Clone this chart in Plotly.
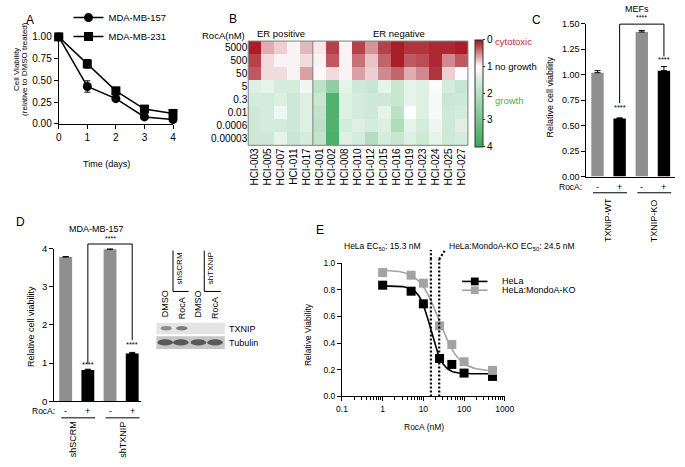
import numpy as np
import plotly.graph_objects as go

W, H = 685, 467
FONT = "Liberation Sans, Arial, sans-serif"

# ---------------- Panel A data ----------------
days = [0, 1, 2, 3, 4]
mb157 = [1.00, 0.43, 0.29, 0.08, 0.05]
mb157_err = [0.0, 0.065, 0.012, 0.012, 0.008]
mb231 = [1.00, 0.69, 0.38, 0.17, 0.12]
mb231_err = [0.0, 0.05, 0.012, 0.02, 0.012]

# ---------------- Panel B data ----------------
pdx_models = ["HCI-003", "HCI-005", "HCI-007", "HCI-011", "HCI-017",
              "HCI-001", "HCI-002", "HCI-008", "HCI-010", "HCI-012", "HCI-015",
              "HCI-016", "HCI-019", "HCI-023", "HCI-024", "HCI-025", "HCI-027"]
roca_doses = ["5000", "500", "50", "5", "0.3", "0.01", "0.0006", "0.00003"]
growth_5000 = [0.05, 0.65, 0.80, 0.95, 0.70, 0.90, 0.20, 0.95, 0.20, 0.55, 0.20, 0.05, 0.15, 0.15, 0.10, 0.10, 0.05]
growth_500 = [0.20, 0.85, 0.95, 0.95, 0.85, 0.95, 0.30, 0.95, 0.40, 0.75, 0.35, 0.05, 0.30, 0.25, 0.10, 0.50, 0.30]
growth_50 = [0.30, 0.85, 0.85, 0.95, 0.60, 0.97, 0.85, 0.95, 0.60, 0.80, 0.50, 0.35, 0.65, 0.50, 0.15, 0.80, 1.00]
growth_5 = [1.4, 1.3, 1.5, 1.5, 1.2, 1.9, 2.6, 1.3, 1.6, 1.7, 1.3, 1.7, 1.3, 1.4, 1.05, 1.5, 1.7]
growth_0p3 = [1.5, 1.5, 1.4, 1.6, 1.4, 1.7, 3.6, 1.4, 1.5, 1.6, 1.6, 1.7, 1.3, 1.4, 1.1, 1.7, 1.6]
growth_0p01 = [1.6, 1.5, 1.2, 1.6, 1.4, 1.8, 3.6, 1.4, 1.5, 1.6, 1.3, 1.9, 1.0, 1.4, 1.1, 1.6, 1.5]
growth_0p0006 = [1.6, 1.5, 1.5, 1.6, 1.4, 1.9, 3.6, 1.5, 1.4, 1.5, 1.4, 2.1, 1.3, 1.5, 1.2, 1.6, 1.4]
growth_0p00003 = [1.6, 1.6, 1.3, 1.7, 1.5, 1.8, 3.7, 1.4, 1.5, 2.0, 1.5, 1.7, 1.4, 1.6, 1.3, 1.6, 1.5]
n_er_positive = 5
colorbar_ticks = [0, 1, 2, 3, 4]

# ---------------- Panel C data ----------------
mef_groups = ["TXNIP-WT", "TXNIP-KO"]
roca_signs = ["-", "+", "-", "+"]
mef_viability = [1.02, 0.57, 1.42, 1.04]
mef_err = [0.02, 0.006, 0.015, 0.04]

# ---------------- Panel D data ----------------
sh_groups = ["shSCRM", "shTXNIP"]
mda157_viability = [3.78, 0.82, 3.98, 1.25]
mda157_err = [0.01, 0.02, 0.02, 0.03]

# ---------------- Panel E data ----------------
roca_nM = [1, 5, 10, 25, 50, 100, 500]
hela = [0.835, 0.79, 0.695, 0.285, 0.24, 0.175, 0.15]
hela_ko = [0.93, 0.91, 0.85, 0.53, 0.39, 0.26, 0.195]
# fitted dose-response parameters: top, bottom, EC50 (nM), hill slope
hela_fit = [0.83, 0.17, 15.3, 3.0]
hela_ko_fit = [0.95, 0.19, 24.5, 1.8]
e_xticks = [0.1, 1, 10, 100, 1000]

bar_colors = ["#8f8f8f", "#000000", "#8f8f8f", "#000000"]


def px(x):
    return x / W


def py(y):
    return 1 - y / H


def dx(a, b):
    return [a / W, b / W]


def dy(top, bottom):
    return [1 - bottom / H, 1 - top / H]


fig = go.Figure()

# ---------- A ----------
for name, vals, err, sym in [("MDA-MB-157", mb157, mb157_err, "circle"),
                              ("MDA-MB-231", mb231, mb231_err, "square")]:
    fig.add_trace(go.Scatter(
        x=days, y=vals, name=name, mode="lines+markers", xaxis="x", yaxis="y",
        line=dict(color="black", width=1.5),
        marker=dict(symbol=sym, size=9, color="black"),
        error_y=dict(type="data", array=err, color="black", thickness=1, width=3),
        cliponaxis=False, showlegend=True))

# ---------- B ----------
growth = np.array([growth_5000, growth_500, growth_50, growth_5, growth_0p3,
                   growth_0p01, growth_0p0006, growth_0p00003])
fig.add_trace(go.Heatmap(
    z=-growth, x=list(range(len(pdx_models))), y=list(range(len(roca_doses))),
    xaxis="x2", yaxis="y2", zmin=-4, zmax=0,
    colorscale=[[0, "#3aa65a"], [0.625, "#d4ecdb"], [0.75, "#ffffff"], [1, "#a3111c"]],
    showlegend=False,
    colorbar=dict(x=px(480), xanchor="left", y=py(89.5), yanchor="middle",
                  len=107, lenmode="pixels", thickness=8, xpad=0, ypad=0,
                  outlinewidth=1, outlinecolor="#333",
                  tickvals=[-t for t in colorbar_ticks], ticktext=[str(t) for t in colorbar_ticks],
                  ticks="outside", ticklen=2, tickcolor="#333",
                  tickfont=dict(size=10, family=FONT, color="black"))))

# ---------- C ----------
fig.add_trace(go.Bar(
    x=list(range(4)), y=mef_viability, xaxis="x3", yaxis="y3", width=0.56,
    marker=dict(color=bar_colors, line=dict(width=0)), showlegend=False,
    error_y=dict(type="data", symmetric=False, array=mef_err, arrayminus=[0] * 4,
                 color="black", thickness=1, width=3)))

# ---------- D ----------
fig.add_trace(go.Bar(
    x=list(range(4)), y=mda157_viability, xaxis="x4", yaxis="y4", width=0.58,
    marker=dict(color=bar_colors, line=dict(width=0)), showlegend=False,
    error_y=dict(type="data", symmetric=False, array=mda157_err, arrayminus=[0] * 4,
                 color="black", thickness=1, width=3)))

# ---------- E ----------
def logistic(x, p):
    top, bottom, ec50, hill = p
    x = np.asarray(x, dtype=float)
    return bottom + (top - bottom) / (1 + (x / ec50) ** hill)


xfit = np.logspace(np.log10(roca_nM[0]), np.log10(roca_nM[-1]), 200)
for name, vals, p, col in [("HeLa", hela, hela_fit, "black"),
                           ("HeLa:MondoA-KO", hela_ko, hela_ko_fit, "#a3a3a3")]:
    fig.add_trace(go.Scatter(x=xfit, y=logistic(xfit, p), mode="lines", xaxis="x5", yaxis="y5",
                             line=dict(color=col, width=1.6), showlegend=False))
    fig.add_trace(go.Scatter(x=roca_nM, y=vals, mode="markers", xaxis="x5", yaxis="y5",
                             marker=dict(symbol="square", size=9, color=col),
                             cliponaxis=False, showlegend=False))

axis_common = dict(showgrid=False, zeroline=False, showline=True, linecolor="black",
                   linewidth=1, ticks="outside", ticklen=4, tickwidth=1, tickcolor="black",
                   tickfont=dict(family=FONT, size=10, color="black"))

layout_axes = dict(
    xaxis=dict(axis_common, domain=dx(54, 171), range=[0, 4], tickvals=days,
               anchor="y"),
    yaxis=dict(axis_common, domain=dy(31.7, 121), range=[0, 1],
               tickvals=[0, 0.25, 0.5, 0.75, 1.0], tickformat=".2f", anchor="x"),
    xaxis2=dict(showgrid=False, zeroline=False, showline=False, domain=dx(248, 473),
                range=[-0.5, len(pdx_models) - 0.5], tickvals=list(range(len(pdx_models))),
                ticktext=pdx_models, tickangle=-90, ticks="",
                tickfont=dict(family=FONT, size=10, color="black"), anchor="y2"),
    yaxis2=dict(showgrid=False, zeroline=False, showline=False, domain=dy(36, 143),
                range=[len(roca_doses) - 0.5, -0.5], tickvals=list(range(len(roca_doses))),
                ticktext=roca_doses, ticks="",
                tickfont=dict(family=FONT, size=10, color="black"), anchor="x2"),
    xaxis3=dict(axis_common, domain=dx(594.3, 685), range=[-0.5, 3.5], ticks="",
                showticklabels=False, anchor="y3"),
    yaxis3=dict(axis_common, domain=dy(18.3, 175), range=[0, 1.5],
                tickvals=[0, 0.25, 0.5, 0.75, 1.0, 1.25, 1.5], tickformat=".2f",
                tickfont=dict(family=FONT, size=9, color="black"), anchor="x3"),
    xaxis4=dict(axis_common, domain=dx(49.3, 138.3), range=[-0.52, 3.4], ticks="",
                showticklabels=False, anchor="y4"),
    yaxis4=dict(axis_common, domain=dy(249, 405.7), range=[0, 4], tickvals=[0, 1, 2, 3, 4],
                tickfont=dict(family=FONT, size=9.5, color="black"), anchor="x4"),
    xaxis5=dict(axis_common, type="log", domain=dx(344, 510.7),
                range=[np.log10(e_xticks[0]), np.log10(e_xticks[-1])],
                tickmode="linear", tick0=0, dtick=1, exponentformat="none",
                tickfont=dict(family=FONT, size=8.5, color="black"),
                minor=dict(ticks="outside", ticklen=2.5, tickcolor="black", dtick="D1",
                           showgrid=False),
                anchor="y5"),
    yaxis5=dict(axis_common, domain=dy(264, 400.7), range=[0, 1.0],
                tickvals=[0, 0.2, 0.4, 0.6, 0.8, 1.0], tickformat=".1f",
                tickfont=dict(family=FONT, size=8.5, color="black"), anchor="x5"),
)

ann = []


def txt(text, x, y, size=9, xanchor="center", yanchor="middle", color="black", angle=0,
        xref="paper", yref="paper"):
    ann.append(dict(text=text, x=x, y=y, xref=xref, yref=yref, xanchor=xanchor,
                    yanchor=yanchor, showarrow=False, textangle=angle,
                    font=dict(family=FONT, size=size, color=color)))


def ptxt(text, x, y, size=9, **kw):
    txt(text, px(x), py(y), size=size, **kw)


# Panel letters
for letter, x, y in [("A", 25, 14), ("B", 232, 13), ("C", 543, 14), ("D", 15, 222), ("E", 322, 230)]:
    ptxt(letter, x, y, size=12)

# A titles
ptxt("Time (days)", 103, 162, size=9)
ptxt("Cell Viability", 11, 65, size=8, angle=-90)
ptxt("(relative to DMSO treated)", 19, 65, size=8, angle=-90)

# B labels
ptxt("RocA(nM)", 247, 30, size=9.5, xanchor="right")
txt("ER positive", (n_er_positive - 1) / 2, py(28), size=9.5, xref="x2")
txt("ER negative", (n_er_positive + len(pdx_models) - 1) / 2 + 0.7, py(28), size=9.5, xref="x2")
ptxt("cytotoxic", 499, 36, size=9.5, xanchor="left", color="#c1272d")
ptxt("no growth", 499, 62, size=9.5, xanchor="left")
ptxt("growth", 499, 97, size=9.5, xanchor="left", color="#39b54a")

# C labels
ptxt("MEFs", 646, 3.5, size=9)
ptxt("Relative cell viability", 557, 93, size=9, angle=-90)
ptxt("RocA:", 592, 186, size=8.5, xanchor="right")
for i, s in enumerate(roca_signs):
    txt(s, i, py(185.5), size=9, xref="x3")
for i, g in enumerate(mef_groups):
    txt(g, [0.5, 2.55][i], py(220), size=9, angle=-90, xref="x3")
ymaxC = 1.5
txt("****", 1, mef_viability[1] + mef_err[1] + 0.1, size=7.5, xref="x3", yref="y3")
txt("****", 3, mef_viability[3] + mef_err[3] + 0.07, size=7.5, xref="x3", yref="y3")
txt("****", 2, 1.505 / ymaxC, size=7, xref="x3", yref="y3 domain", yanchor="bottom")

# D labels
ptxt("MDA-MB-157", 93, 229, size=9)
ptxt("Relative cell viability", 25, 329, size=9, angle=-90)
ptxt("RocA:", 52, 415.7, size=8.5, xanchor="right")
for i, s in enumerate(roca_signs):
    txt(s, i, py(415.2), size=9, xref="x4")
for i, g in enumerate(sh_groups):
    txt(g, [0.32, 2.55][i], py(445), size=9, angle=-90, xref="x4")
ymaxD = 4.0
txt("****", 1, mda157_viability[1] + mda157_err[1] + 0.12, size=7.5, xref="x4", yref="y4")
txt("****", 3, mda157_viability[3] + mda157_err[3] + 0.22, size=7.5, xref="x4", yref="y4")
txt("****", 2, 4.13 / ymaxD, size=7, xref="x4", yref="y4 domain", yanchor="bottom")

# Western blot labels
for lbl, x, y in [("DMSO", 163, 306), ("RocA", 180, 310.5), ("DMSO", 197, 306), ("RocA", 213.5, 310.5)]:
    ptxt(lbl, x, y, size=9, angle=-90)
ptxt("shSCRM", 177.5, 269, size=8, angle=-90)
ptxt("shTXNIP", 209, 269, size=8, angle=-90)
ptxt("TXNIP", 226, 331.5, size=9, xanchor="left")
ptxt("Tubulin", 226, 346, size=9, xanchor="left")

# E labels
ptxt("Relative Viability", 310, 337, size=8.5, angle=-90)
ptxt("RocA (nM)", 428, 432, size=8.5)
txt("HeLa EC<sub>50</sub>: 15.3 nM", np.log10(hela_fit[2]), py(247), size=8.5,
    xanchor="right", xref="x5")
ann[-1]["xshift"] = -8
txt("HeLa:MondoA-KO EC<sub>50</sub>: 24.5 nM", np.log10(hela_ko_fit[2]), py(247), size=8.5,
    xanchor="left", xref="x5")
ann[-1]["xshift"] = 8
ptxt("HeLa", 506, 282.7, size=9, xanchor="left")
ptxt("HeLa:MondoA-KO", 506, 291.7, size=9, xanchor="left")

shapes = []


def pline(x0, y0, x1, y1, color="black", width=1, dash=None):
    shapes.append(dict(type="line", xref="paper", yref="paper", x0=px(x0), y0=py(y0),
                       x1=px(x1), y1=py(y1), line=dict(color=color, width=width, dash=dash)))


# B: heatmap frame and ER divider
shapes.append(dict(type="rect", xref="x2 domain", yref="y2 domain", x0=0, x1=1, y0=0, y1=1,
                   line=dict(color="#7f7f7f", width=1)))
shapes.append(dict(type="line", xref="x2", yref="y2 domain", x0=n_er_positive - 0.5,
                   x1=n_er_positive - 0.5, y0=0, y1=1, line=dict(color="#7f7f7f", width=1)))

# C / D brackets and group underlines
for xa, ya, ymax, ytop, yl, yr, yund in [("x3", "y3", 1.5, 1.497, 0.72, 1.18, 191.7),
                                       ("x4", "y4", 4.0, 4.12, 0.99, 1.6, 422.7)]:
    dref = ya + " domain"
    shapes.append(dict(type="line", xref=xa, yref=dref, x0=1, x1=3, y0=ytop / ymax, y1=ytop / ymax,
                       line=dict(color="black", width=1)))
    shapes.append(dict(type="line", xref=xa, yref=dref, x0=1, x1=1, y0=ytop / ymax, y1=yl / ymax,
                       line=dict(color="black", width=1)))
    shapes.append(dict(type="line", xref=xa, yref=dref, x0=3, x1=3, y0=ytop / ymax, y1=yr / ymax,
                       line=dict(color="black", width=1)))
    for a, b in [(-0.2, 1.33), (1.8, 3.33)]:
        shapes.append(dict(type="line", xref=xa, yref="paper", x0=a, x1=b, y0=py(yund), y1=py(yund),
                           line=dict(color="black", width=1)))

# Western blot
shapes.append(dict(type="rect", xref="paper", yref="paper", x0=px(154), x1=px(224), y0=py(337),
                   y1=py(325), fillcolor="#e4e4e4", line=dict(width=0)))
shapes.append(dict(type="rect", xref="paper", yref="paper", x0=px(154), x1=px(224), y0=py(352),
                   y1=py(339), fillcolor="#c6c6c6", line=dict(width=0)))
for cx, w, col in [(164, 11, "#8c8c8c"), (180, 12, "#7c7c7c")]:
    shapes.append(dict(type="circle", xref="paper", yref="paper", x0=px(cx - w / 2), x1=px(cx + w / 2),
                       y0=py(333), y1=py(328.5), fillcolor=col, line=dict(width=0)))
for cx in [163, 179, 197, 214]:
    shapes.append(dict(type="circle", xref="paper", yref="paper", x0=px(cx - 8), x1=px(cx + 8),
                       y0=py(348.5), y1=py(342), fillcolor="#585858", line=dict(width=0)))
pline(171, 251, 171, 293)
pline(171, 293, 187, 293)
pline(203, 251, 203, 293)
pline(203, 293, 220, 293)

# E: EC50 dotted guides
for p, dirn in [(hela_fit, -1), (hela_ko_fit, 1)]:
    shapes.append(dict(type="line", xref="x5", yref="y5 domain", x0=p[2], x1=p[2], y0=0, y1=1.03,
                       line=dict(color="black", width=2.2, dash="2px,2px")))
    shapes.append(dict(type="line", xref="x5", yref="y5 domain", xsizemode="pixel", xanchor=p[2],
                       x0=0, x1=6 * dirn, y0=1.03, y1=1.10,
                       line=dict(color="black", width=2.2, dash="2px,2px")))

# E manual legend
for yy, col in [(282.7, "black"), (291.7, "#a3a3a3")]:
    pline(467, yy, 493, yy, color=col, width=1.6)
    shapes.append(dict(type="rect", xref="paper", yref="paper", x0=px(476), x1=px(484),
                       y0=py(yy + 4), y1=py(yy - 4), fillcolor=col, line=dict(width=0)))

fig.update_layout(
    width=W, height=H, margin=dict(l=0, r=0, t=0, b=0),
    paper_bgcolor="white", plot_bgcolor="white",
    font=dict(family=FONT, size=10, color="black"),
    showlegend=True,
    legend=dict(x=px(64), y=py(-3), xanchor="left", yanchor="top", bgcolor="rgba(0,0,0,0)",
                font=dict(family=FONT, size=9.5), tracegroupgap=0, itemwidth=30),
    annotations=ann, shapes=shapes, **layout_axes)

fig.write_html("out.html", config={"displayModeBar": False},
               post_script="document.body.style.margin='0px';document.body.style.padding='0px';")
